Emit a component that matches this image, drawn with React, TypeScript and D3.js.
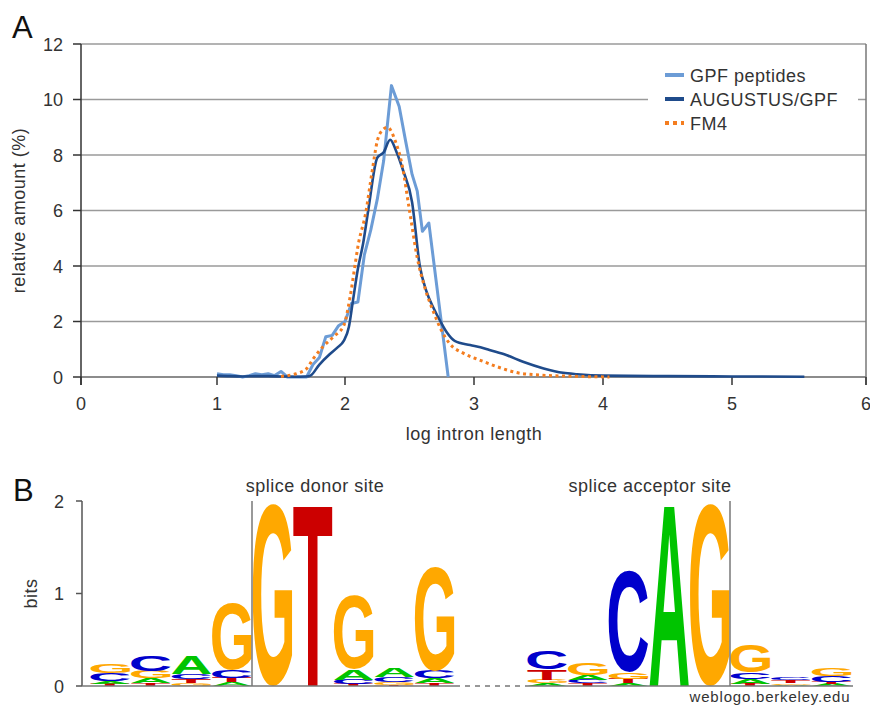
import { useMemo } from "react";
import * as d3 from "d3";

// panel A: intron length distributions (log10 length, % of introns)
const gpfPeptides: [number, number][] = [
  [1.0, 0.12], [1.05, 0.08], [1.1, 0.08], [1.15, 0.05], [1.2, 0.0], [1.25, 0.05],
  [1.3, 0.12], [1.35, 0.08], [1.4, 0.12], [1.45, 0.05], [1.5, 0.2], [1.55, 0.0],
  [1.6, 0.0], [1.65, 0.0], [1.7, 0.0], [1.75, 0.45], [1.8, 0.7], [1.85, 1.45],
  [1.9, 1.5], [1.95, 1.85], [2.0, 2.0], [2.05, 2.65], [2.1, 2.7], [2.15, 4.4],
  [2.2, 5.3], [2.25, 6.4], [2.3, 7.8], [2.36, 10.5], [2.42, 9.75], [2.47, 8.5],
  [2.52, 7.3], [2.56, 6.7], [2.6, 5.25], [2.65, 5.55], [2.8, 0.0],
];

const augustusGpf: [number, number][] = [
  [1.0, 0.05], [1.1, 0.03], [1.2, 0.02], [1.3, 0.03], [1.4, 0.03], [1.5, 0.02],
  [1.6, 0.01], [1.7, 0.02], [1.73, 0.05], [1.8, 0.45], [1.88, 0.82], [1.94, 1.06],
  [1.99, 1.3], [2.03, 1.8], [2.06, 2.7], [2.1, 3.9], [2.14, 4.8], [2.18, 6.0],
  [2.25, 7.9], [2.3, 8.1], [2.35, 8.55], [2.4, 8.1], [2.45, 7.45], [2.52, 6.3],
  [2.58, 4.0], [2.63, 3.1], [2.69, 2.45], [2.74, 2.0], [2.79, 1.6], [2.85, 1.3],
  [2.97, 1.15], [3.05, 1.07], [3.12, 0.97], [3.25, 0.79], [3.38, 0.55], [3.54, 0.31],
  [3.69, 0.15], [3.8, 0.1], [4.0, 0.05], [4.5, 0.03], [5.0, 0.02], [5.54, 0.01],
];

const fm4: [number, number][] = [
  [1.5, 0.02], [1.55, 0.05], [1.62, 0.12], [1.7, 0.3], [1.75, 0.65], [1.83, 1.1],
  [1.91, 1.45], [1.99, 1.85], [2.04, 2.9], [2.08, 4.1], [2.1, 4.7], [2.16, 5.9],
  [2.21, 7.4], [2.25, 8.5], [2.29, 8.9], [2.33, 9.0], [2.39, 8.5], [2.44, 7.7],
  [2.5, 6.0], [2.56, 4.3], [2.62, 3.2], [2.69, 2.3], [2.74, 1.75], [2.81, 1.21],
  [2.92, 0.85], [3.05, 0.6], [3.18, 0.37], [3.34, 0.15], [3.51, 0.07], [3.74, 0.03],
  [4.05, 0.0],
];

const xTicks = [0, 1, 2, 3, 4, 5, 6];
const yTicks = [0, 2, 4, 6, 8, 10, 12];
const legendLabels = ["GPF peptides", "AUGUSTUS/GPF", "FM4"];

// panel B: sequence logo, each column bottom-to-top [base, bits]
const donorColumns: [string, number][][] = [
  [["T", 0.02], ["A", 0.03], ["C", 0.09], ["G", 0.1]],
  [["T", 0.03], ["A", 0.05], ["G", 0.08], ["C", 0.17]],
  [["G", 0.03], ["T", 0.04], ["C", 0.06], ["A", 0.19]],
  [["A", 0.04], ["T", 0.05], ["C", 0.08], ["G", 0.72]],
  [["G", 1.97]],
  [["T", 1.97]],
  [["T", 0.02], ["C", 0.05], ["A", 0.11], ["G", 0.8]],
  [["T", 0.015], ["G", 0.03], ["C", 0.05], ["A", 0.1]],
  [["T", 0.03], ["A", 0.05], ["C", 0.08], ["G", 1.12]],
];

const acceptorColumns: [string, number][][] = [
  [["A", 0.03], ["G", 0.04], ["T", 0.11], ["C", 0.2]],
  [["T", 0.03], ["C", 0.04], ["A", 0.05], ["G", 0.12]],
  [["A", 0.03], ["T", 0.05], ["G", 0.07], ["C", 1.1]],
  [["A", 1.97]],
  [["G", 1.97]],
  [["T", 0.02], ["A", 0.06], ["C", 0.07], ["G", 0.3]],
  [["A", 0.015], ["G", 0.015], ["T", 0.03], ["C", 0.03]],
  [["A", 0.02], ["T", 0.025], ["C", 0.065], ["G", 0.085]],
];

const bitsTicks = [0, 1, 2];

const FONT = "'Liberation Sans', Arial, Helvetica, sans-serif";
const baseColor: Record<string, string> = {
  A: "#00c400",
  C: "#0000cc",
  G: "#ffa800",
  T: "#cc0000",
};

function measureGlyphs() {
  const ctx = document.createElement("canvas").getContext("2d")!;
  ctx.font = `bold 100px ${FONT}`;
  const out: Record<string, { l: number; r: number; a: number; d: number }> = {};
  for (const ch of ["A", "C", "G", "T"]) {
    const m = ctx.measureText(ch);
    out[ch] = {
      l: m.actualBoundingBoxLeft,
      r: m.actualBoundingBoxRight,
      a: m.actualBoundingBoxAscent,
      d: m.actualBoundingBoxDescent,
    };
  }
  return out;
}

function Logo({ columns, x0, x1, y, glyphs }) {
  const x = d3.scaleLinear().domain([0, columns.length]).range([x0, x1]);
  const letters = [];
  columns.forEach((col, i) => {
    let acc = 0;
    const sorted = [...col].sort((a, b) => a[1] - b[1]);
    sorted.forEach(([ch, bits]) => {
      const top = y(acc + bits);
      const bottom = y(acc);
      acc += bits;
      const h = bottom - top;
      if (h < 0.4) return;
      const g = glyphs[ch];
      const w = x(i + 1) - x(i) - 1;
      const sx = w / (g.l + g.r);
      const sy = h / (g.a + g.d);
      letters.push(
        <text
          key={`${i}-${ch}`}
          transform={`translate(${x(i) + 0.5},${top}) scale(${sx},${sy}) translate(${g.l},${g.a})`}
          fontFamily={FONT}
          fontWeight="bold"
          fontSize={100}
          fill={baseColor[ch]}
        >
          {ch}
        </text>
      );
    });
  });
  return <g>{letters}</g>;
}

export default function App() {
  const glyphs = useMemo(measureGlyphs, []);

  // panel A scales
  const x = d3.scaleLinear().domain(xTicks).range([81, 217, 345, 474, 603, 732, 866]);
  const y = d3.scaleLinear().domain([0, 12]).range([377, 44]);
  const straight = d3.line<[number, number]>().x((d) => x(d[0])).y((d) => y(d[1]));
  const smooth = d3
    .line<[number, number]>()
    .x((d) => x(d[0]))
    .y((d) => y(d[1]))
    .curve(d3.curveMonotoneX);

  // panel B scale
  const yb = d3.scaleLinear().domain([0, 2]).range([686, 501]);

  const series = [
    { color: "#6c9cd6", width: 3, dash: null },
    { color: "#1f4b8b", width: 2.6, dash: null },
    { color: "#f47d1f", width: 3, dash: "3 3.5" },
  ];

  const label = { fontSize: 18, letterSpacing: 0.5, fill: "#333" };

  return (
    <div style={{ position: "absolute", left: 0, top: 0 }}>
      <svg width={870} height={705} fontFamily={FONT}>
        <rect width={870} height={705} fill="#fff" />

        {/* ---- A ---- */}
        <text x={12} y={38} fontSize={31} fill="#111">A</text>
        {yTicks.filter((t) => t > 0).map((t) => (
          <line key={t} x1={81} x2={866} y1={y(t)} y2={y(t)} stroke="#9a9a9a" strokeWidth={1.5} />
        ))}
        <line x1={81} x2={866} y1={y(0)} y2={y(0)} stroke="#666" strokeWidth={1.5} />
        <line x1={81} x2={81} y1={y(12)} y2={385} stroke="#333" strokeWidth={1.5} />
        <line x1={866} x2={866} y1={y(12)} y2={385} stroke="#777" strokeWidth={1.5} />
        {yTicks.map((t) => (
          <g key={t}>
            <line x1={73} x2={81} y1={y(t)} y2={y(t)} stroke="#333" strokeWidth={1.5} />
            <text x={63} y={y(t) + 6.5} fontSize={18} textAnchor="end" fill="#333">{t}</text>
          </g>
        ))}
        {xTicks.map((t) => (
          <g key={t}>
            <line x1={x(t)} x2={x(t)} y1={377} y2={385} stroke="#333" strokeWidth={1.5} />
            <text x={x(t)} y={410} fontSize={18} textAnchor="middle" fill="#333">{t}</text>
          </g>
        ))}
        <text x={474} y={440} textAnchor="middle" {...label}>log intron length</text>
        <text transform={`translate(25,${y(6)}) rotate(-90)`} textAnchor="middle" {...label}>
          relative amount (%)
        </text>

        <path d={straight(gpfPeptides)!} fill="none" stroke={series[0].color} strokeWidth={series[0].width} strokeLinejoin="round" />
        <path d={smooth(augustusGpf)!} fill="none" stroke={series[1].color} strokeWidth={series[1].width} strokeLinejoin="round" />
        <path d={smooth(fm4)!} fill="none" stroke={series[2].color} strokeWidth={series[2].width} strokeDasharray={series[2].dash!} />

        <rect x={648} y={58} width={210} height={82} fill="#fff" />
        {legendLabels.map((name, i) => {
          const ly = 75 + i * 24;
          return (
            <g key={name}>
              <line x1={665} x2={684} y1={ly} y2={ly} stroke={series[i].color} strokeWidth={4}
                strokeDasharray={series[i].dash ? "4 4" : undefined} />
              <text x={690} y={ly + 6.5} {...label}>{name}</text>
            </g>
          );
        })}

        {/* ---- B ---- */}
        <text x={13} y={501} fontSize={31} fill="#111">B</text>
        <text x={315} y={492} textAnchor="middle" {...label}>splice donor site</text>
        <text x={650} y={492} textAnchor="middle" {...label}>splice acceptor site</text>
        <line x1={82} x2={82} y1={yb(2)} y2={yb(0)} stroke="#555" strokeWidth={1.5} />
        {bitsTicks.map((t) => (
          <g key={t}>
            <line x1={76} x2={82} y1={yb(t)} y2={yb(t)} stroke="#555" strokeWidth={1.5} />
            <text x={64} y={yb(t) + 6.5} fontSize={18} textAnchor="end" fill="#333">{t}</text>
          </g>
        ))}
        <text transform={`translate(37,${yb(1)}) rotate(-90)`} textAnchor="middle" {...label}>bits</text>

        <Logo columns={donorColumns} x0={90} x1={455} y={yb} glyphs={glyphs} />
        <Logo columns={acceptorColumns} x0={527} x1={852} y={yb} glyphs={glyphs} />

        <line x1={252} x2={252} y1={yb(2)} y2={yb(0)} stroke="#777" strokeWidth={1.5} />
        <line x1={730} x2={730} y1={yb(2)} y2={yb(0)} stroke="#777" strokeWidth={1.5} />
        <line x1={82} x2={455} y1={yb(0)} y2={yb(0)} stroke="#777" strokeWidth={1.5} />
        <line x1={455} x2={527} y1={yb(0)} y2={yb(0)} stroke="#777" strokeWidth={1.5} strokeDasharray="5 5" />
        <line x1={527} x2={853} y1={yb(0)} y2={yb(0)} stroke="#777" strokeWidth={1.5} />
        <text x={770} y={702} fontSize={15} letterSpacing={0.8} textAnchor="middle" fill="#333">weblogo.berkeley.edu</text>
      </svg>
    </div>
  );
}
